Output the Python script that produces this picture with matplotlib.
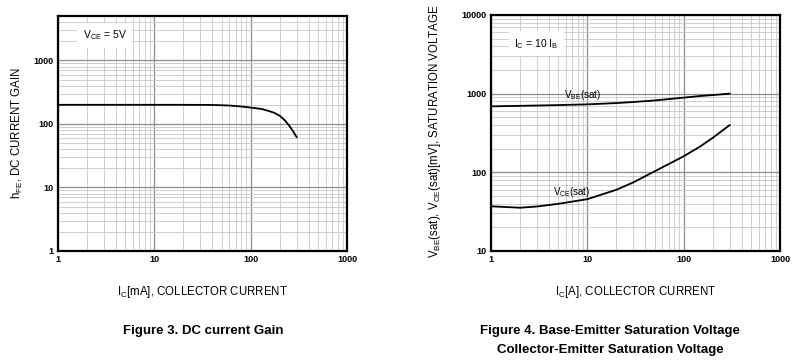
import matplotlib
matplotlib.use("Agg")
import matplotlib.pyplot as plt
import numpy as np
from matplotlib.ticker import LogLocator, FixedLocator, NullFormatter

plt.rcParams['font.family'] = ['Liberation Sans', 'DejaVu Sans']

# Figure 3 data
ic_gain = [1, 20, 40, 60, 80, 100, 130, 150, 175, 200, 225, 250, 275, 300]
hfe = [200, 200, 199, 195, 188, 181, 172, 162, 150, 135, 115, 95, 77, 62]

# Figure 4 data
ic_sat = [1, 2, 3, 5, 10, 20, 30, 50, 100, 150, 200, 300]
vbe_sat = [690, 700, 707, 716, 731, 760, 783, 820, 890, 935, 960, 1000]
vce_sat = [37, 35.5, 36.8, 39.8, 45.6, 60, 74.5, 103, 160, 215, 274, 398]

xticks = [1, 10, 100, 1000]
yticks_left = [1, 10, 100, 1000]
yticks_right = [10, 100, 1000, 10000]

fig = plt.figure(figsize=(8, 3.64), dpi=100)
W, H = 800, 364
ax1 = fig.add_axes([58 / W, 1 - 251 / H, 289 / W, 235 / H])
ax2 = fig.add_axes([491 / W, 1 - 251 / H, 289 / W, 236 / H])

def style(ax, yticks, ylim):
    ax.set_xscale('log')
    ax.set_yscale('log')
    ax.set_xlim(1, 1000)
    ax.set_ylim(*ylim)
    ax.xaxis.set_major_locator(FixedLocator(xticks))
    ax.yaxis.set_major_locator(FixedLocator(yticks))
    ax.set_xticklabels([str(t) for t in xticks], fontsize=6.5, fontweight='bold')
    ax.set_yticklabels([str(t) for t in yticks], fontsize=6.5, fontweight='bold')
    ax.xaxis.set_minor_locator(LogLocator(base=10, subs=np.arange(2, 10)))
    ax.yaxis.set_minor_locator(LogLocator(base=10, subs=np.arange(2, 10)))
    ax.xaxis.set_minor_formatter(NullFormatter())
    ax.yaxis.set_minor_formatter(NullFormatter())
    ax.grid(which='major', color='#8c8c8c', lw=0.9)
    ax.grid(which='minor', color='#c8c8c8', lw=0.6)
    ax.tick_params(which='both', length=0, pad=3)
    for s in ax.spines.values():
        s.set_linewidth(1.6)
        s.set_color('black')
    ax.set_axisbelow(True)

style(ax1, yticks_left, (1, 5000))
ax1.plot(ic_gain, hfe, color='black', lw=1.3)
ax1.text(1.8, 2500, r'V$_{\mathregular{CE}}$ = 5V', fontsize=7.5, va='center',
         bbox=dict(facecolor='white', edgecolor='none', pad=4))
ax1.set_ylabel(r'h$_{\mathregular{FE}}$, DC CURRENT GAIN', fontsize=8.3)
ax1.yaxis.set_label_coords(-0.115, 0.5)
ax1.set_xlabel(r'I$_{\mathregular{C}}$[mA], COLLECTOR CURRENT', fontsize=8.3, labelpad=14)

style(ax2, yticks_right, (10, 10000))
ax2.plot(ic_sat, vbe_sat, color='black', lw=1.3)
ax2.plot(ic_sat, vce_sat, color='black', lw=1.3)
ax2.text(1.75, 4300, r'I$_{\mathregular{C}}$ = 10 I$_{\mathregular{B}}$', fontsize=7.5, va='center',
         bbox=dict(facecolor='white', edgecolor='none', pad=4))
ax2.text(9.0, 960, r'V$_{\mathregular{BE}}$(sat)', fontsize=7, ha='center', va='center')
ax2.text(6.8, 56, r'V$_{\mathregular{CE}}$(sat)', fontsize=7, ha='center', va='center')
ax2.set_ylabel(r'V$_{\mathregular{BE}}$(sat), V$_{\mathregular{CE}}$(sat)[mV], SATURATION VOLTAGE', fontsize=8.3)
ax2.yaxis.set_label_coords(-0.165, 0.51)
ax2.set_xlabel(r'I$_{\mathregular{C}}$[A], COLLECTOR CURRENT', fontsize=8.3, labelpad=14)

cap = dict(ha='center', va='center', fontsize=9.5, fontweight='bold',
           family=['Liberation Sans Narrow', 'Liberation Sans'])
fig.text(203 / W, 1 - 331 / H, 'Figure 3. DC current Gain', **cap)
fig.text(610 / W, 1 - 331 / H, 'Figure 4. Base-Emitter Saturation Voltage', **cap)
fig.text(610 / W, 1 - 350 / H, 'Collector-Emitter Saturation Voltage', **cap)

fig.savefig('out.png', dpi=100)
